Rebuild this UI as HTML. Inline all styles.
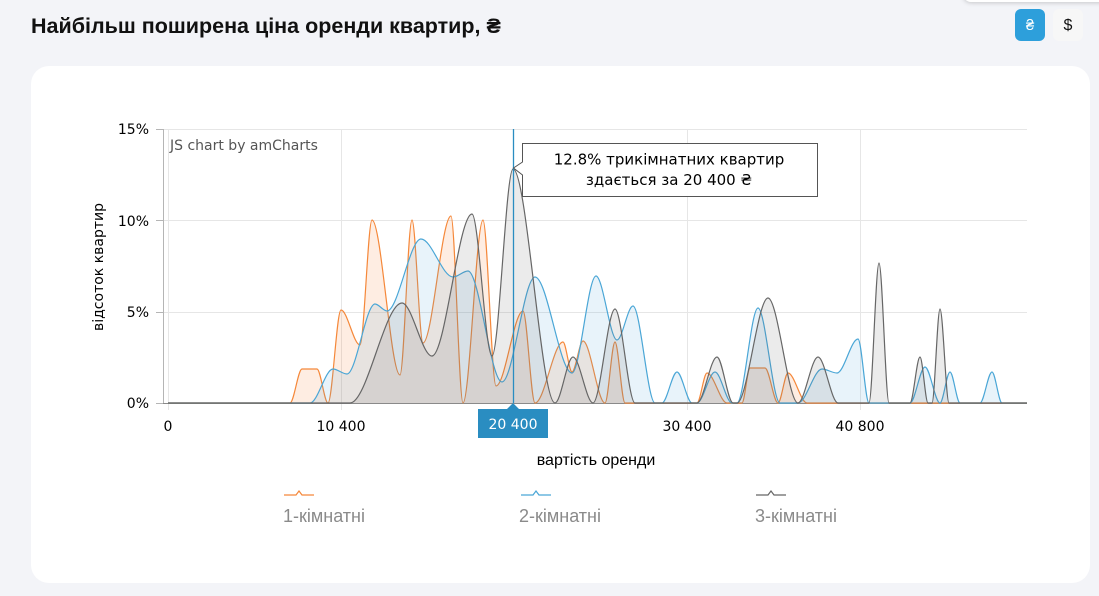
<!DOCTYPE html>
<html><head><meta charset="utf-8">
<style>
html,body{margin:0;padding:0;width:1099px;height:596px;overflow:hidden;background:#f3f4f8;}
svg{position:absolute;left:0;top:0;}
.t{font-family:"DejaVu Sans","Liberation Sans",sans-serif;}
.r{font-family:"Liberation Sans","DejaVu Sans",sans-serif;}
</style></head>
<body>
<svg width="1099" height="596" viewBox="0 0 1099 596" xmlns="http://www.w3.org/2000/svg">
  <rect x="963" y="-30" width="150" height="32" rx="8" fill="#fff" style="filter:drop-shadow(0 1px 2px rgba(0,0,0,0.18))"/>
  <text x="31" y="33" class="r" font-size="21.5" font-weight="bold" fill="#111">Найбільш поширена ціна оренди квартир, ₴</text>
  <rect x="1015" y="9" width="30" height="32" rx="6" fill="#2d9fdb"/>
  <text x="1030" y="30" class="r" font-size="15" fill="#fff" text-anchor="middle">₴</text>
  <rect x="1053" y="9" width="30" height="32" rx="6" fill="#f7f7f7"/>
  <text x="1068" y="30" class="r" font-size="16" fill="#111" text-anchor="middle">$</text>

  <rect x="31" y="66" width="1059" height="517" rx="18" fill="#fff"/>

  <g stroke="#e6e6e6" stroke-width="1">
    <line x1="163" y1="129.5" x2="1027" y2="129.5"/>
    <line x1="163" y1="220.5" x2="1027" y2="220.5"/>
    <line x1="163" y1="312.5" x2="1027" y2="312.5"/>
    <line x1="168.5" y1="129" x2="168.5" y2="410"/>
    <line x1="341.5" y1="129" x2="341.5" y2="410"/>
    <line x1="687.5" y1="129" x2="687.5" y2="410"/>
    <line x1="860.5" y1="129" x2="860.5" y2="410"/>
  </g>
  <g stroke="#b5b5b5" stroke-width="1">
    <line x1="163.5" y1="129" x2="163.5" y2="403"/>
    <line x1="156" y1="129.5" x2="163" y2="129.5"/>
    <line x1="156" y1="220.5" x2="163" y2="220.5"/>
    <line x1="156" y1="312.5" x2="163" y2="312.5"/>
    <line x1="156" y1="403.5" x2="163" y2="403.5"/>
  </g>
  <line x1="163" y1="403.5" x2="1027" y2="403.5" stroke="#8a8a8a" stroke-width="1"/>

  <g class="t" font-size="14" fill="#000" text-anchor="end">
    <text x="149" y="134">15%</text>
    <text x="149" y="226">10%</text>
    <text x="149" y="317">5%</text>
    <text x="149" y="408">0%</text>
  </g>
  <text class="t" font-size="14" fill="#555" x="170" y="150">JS chart by amCharts</text>

  <g id="series"></g>

  <line x1="513.5" y1="129" x2="513.5" y2="403" stroke="#2a8dc1" stroke-width="1.3"/>

  <g class="t" font-size="14" fill="#000" text-anchor="middle">
    <text x="168" y="431">0</text>
    <text x="341" y="431">10 400</text>
    <text x="687" y="431">30 400</text>
    <text x="860" y="431">40 800</text>
  </g>
  <path d="M513,403 L519,409 L548,409 L548,438 L478,438 L478,409 L507,409 Z" fill="#2a8dc1"/>
  <text x="513" y="429" class="t" font-size="14" fill="#fff" text-anchor="middle">20 400</text>

  <path d="M522.5,143.5 L817.5,143.5 L817.5,196.5 L522.5,196.5 L522.5,175 L513.5,168 L522.5,162 Z" fill="#fff" fill-opacity="0.95" stroke="#555" stroke-width="1"/>
  <g class="t" font-size="15" fill="#000" text-anchor="middle">
    <text x="669" y="164.5">12.8% трикімнатних квартир</text>
    <text x="669" y="185">здається за 20 400 ₴</text>
  </g>

  <text class="t" font-size="14" fill="#000" text-anchor="middle" transform="translate(103,267) rotate(-90)">відсоток квартир</text>
  <text class="r" font-size="16" fill="#000" text-anchor="middle" x="596" y="465">вартість оренди</text>

  <g fill="none" stroke-width="1.2">
    <polyline points="284,495 296,495 299,491 302,495 314,495" stroke="#f5883a"/>
    <polyline points="521,495 533,495 536,491 539,495 551,495" stroke="#4aa6d6"/>
    <polyline points="756,495 768,495 771,491 774,495 786,495" stroke="#666"/>
  </g>
  <g class="r" font-size="18" fill="#8a8a8a">
    <text x="283" y="522">1-кімнатні</text>
    <text x="519" y="522">2-кімнатні</text>
    <text x="755" y="522">3-кімнатні</text>
  </g>
</svg>
<script>
function mono(pts){
  var n=pts.length,t=new Array(n),s=[],i;
  for(i=0;i<n-1;i++){s.push((pts[i+1][1]-pts[i][1])/(pts[i+1][0]-pts[i][0]));}
  t[0]=0;t[n-1]=0;
  for(i=1;i<n-1;i++){
    var h0=pts[i][0]-pts[i-1][0],h1=pts[i+1][0]-pts[i][0],s0=s[i-1],s1=s[i];
    var p=(s0*h1+s1*h0)/(h0+h1);
    t[i]=(Math.sign(s0)+Math.sign(s1))*Math.min(Math.abs(s0),Math.abs(s1),0.5*Math.abs(p))||0;
  }
  var d='M'+pts[0][0]+','+pts[0][1];
  for(i=0;i<n-1;i++){
    var x0=pts[i][0],y0=pts[i][1],x1=pts[i+1][0],y1=pts[i+1][1],dx=(x1-x0)/3;
    d+='C'+(x0+dx).toFixed(2)+','+(y0+dx*t[i]).toFixed(2)+' '+(x1-dx).toFixed(2)+','+(y1-dx*t[i+1]).toFixed(2)+' '+x1+','+y1;
  }
  return d;
}
var orange=[[168,403],[290,403],[302,369],[317,369],[328,403],[341,310],[360,345],[372,220],[400,375],[412,220],[423,343],[451,216],[463,403],[483,220],[496,386],[523,311],[535,403],[563,342],[572,372],[583,341],[605,403],[615,342],[625,403],[697,403],[707,373],[727,403],[742,403],[750,368],[765,368],[778,403],[788,373],[807,403],[1027,403]];
var blue=[[168,403],[310,403],[333,369],[347,374],[375,304],[387,311],[421,239],[453,277],[468,271],[502,382],[535,277],[572,373],[596,276],[617,340],[633,306],[655,403],[662,403],[677,372],[692,403],[697,403],[715,372],[732,403],[737,403],[758,308],[780,403],[798,403],[822,369],[837,373],[858,339],[869,403],[910,403],[925,367],[940,403],[950,372],[960,403],[980,403],[992,372],[1002,403],[1027,403]];
var gray=[[168,403],[350,403],[402,303],[432,356],[472,214],[492,356],[513,169],[555,403],[573,357],[593,403],[615,309],[635,403],[697,403],[717,357],[733,403],[737,403],[768,298],[798,403],[818,357],[838,403],[869,403],[879,263],[889,403],[910,403],[920,357],[928,403],[932,403],[940,309],[949,403],[1027,403]];
var defs=[[orange,'#f5883a',0.15],[blue,'#4aa6d6',0.13],[gray,'#666666',0.13]];
var g=document.getElementById('series'),html='';
defs.forEach(function(s){
  var d=mono(s[0]);
  html+='<path d="'+d+'L1027,403L168,403Z" fill="'+s[1]+'" fill-opacity="'+s[2]+'" stroke="none"/>';
  html+='<path d="'+d+'" fill="none" stroke="'+s[1]+'" stroke-width="1.2"/>';
});
g.innerHTML=html;
</script>
</body></html>
